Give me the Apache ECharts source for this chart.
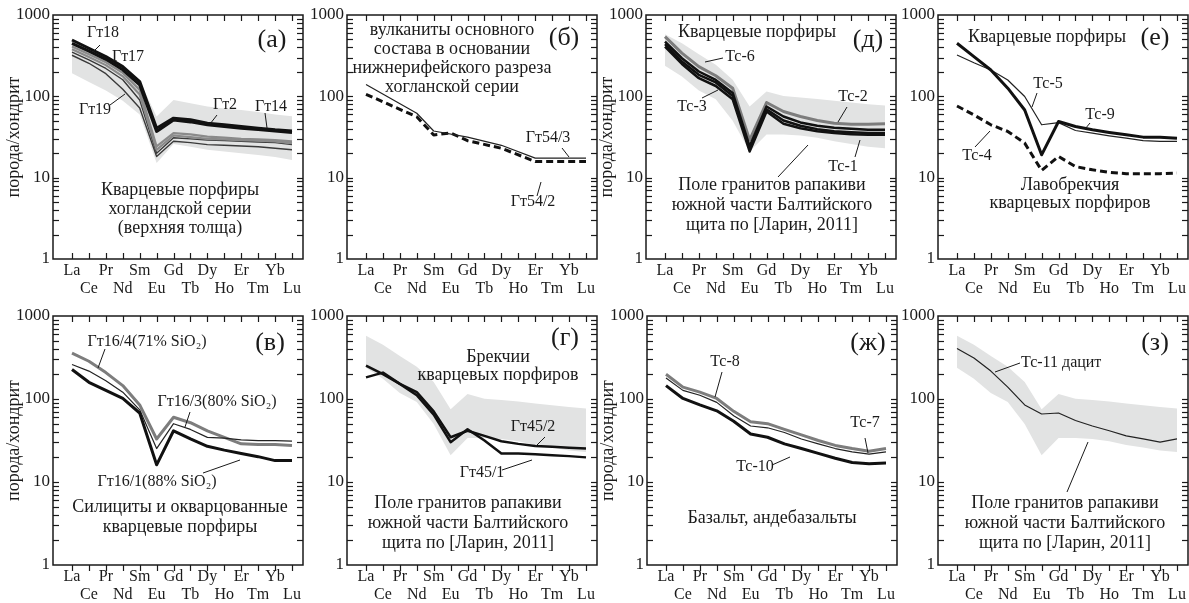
<!DOCTYPE html>
<html><head><meta charset="utf-8">
<script src="https://cdn.jsdelivr.net/npm/echarts@6/dist/echarts.min.js"></script>
<style>html,body{margin:0;padding:0;background:#fff}#c{width:1189px;height:603px}</style>
</head><body><div id="c"></div>
<script>
// ---------- categories & tick labels ----------
const elements = ['La','Ce','Pr','Nd','Sm','Eu','Gd','Tb','Dy','Ho','Er','Tm','Yb','Lu'];
const yTickLabels = [1, 10, 100, 1000];
const yMinorTicks = [2,3,4,5,6,7,8,9,10,20,30,40,50,60,70,80,90,100,200,300,400,500,600,700,800,900];

// ---------- panel (а) ----------
const a_black1 = [493, 390, 308, 232, 152, 40.6, 53.9, 51.4, 46.8, 44.7, 42.5, 40.6, 38.8, 37.5];
const a_black2 = [449, 360, 285, 212, 138, 37, 51, 48.5, 44.7, 42.5, 40.6, 39, 37.5, 36];
const a_grey1  = [409, 330, 262, 194, 120, 24.2, 35.3, 34, 32, 31, 30, 29.5, 29, 28];
const a_grey2  = [380, 305, 242, 176, 105, 22, 33, 31.5, 30, 29.5, 29, 28.5, 28, 26.6];
const a_dark1  = [350, 280, 220, 160, 90, 20, 31, 30, 29, 28.5, 28, 27.5, 27, 25.5];
const a_dark2  = [320, 255, 190, 122, 72, 18.2, 28, 27, 25.5, 25, 24.5, 24, 23, 22];
const fieldA_upper = [500, 400, 312, 238, 155, 56.5, 90, 82, 75, 71, 68, 64, 60, 57];
const fieldA_lower = [192, 150, 118, 88, 60, 15.1, 26, 24, 22, 21, 20, 19, 18, 16.5];

// ---------- panel (б) ----------
const b_gt54_3 = [140, null, null, 62, 37.5, null, 31.5, null, 25, null, 17.4, 17.4, 17.4, 17.4];
const b_gt54_2 = [106, null, null, 56, 33.5, 35.5, 28.5, null, 23, null, 15.8, 15.8, 15.8, 15.8];

// ---------- panel (д) ----------
const d_tc6 = [543, 340, 232, 179, 126, 29, 84, 65, 56.5, 50.5, 46.8, 45.5, 45.5, 46];
const d_tc2 = [471, 294, 202, 159, 110, 24.2, 75, 56.5, 47.8, 43.5, 41, 40, 38.8, 38.8];
const d_tc1 = [437, 268, 184, 148, 101, 22.4, 69.5, 50.5, 43.5, 39.5, 37.3, 36.3, 35.3, 35.3];
const d_tc3 = [409, 250, 167, 134, 92, 21, 65, 46, 40.6, 37.3, 35.3, 34.3, 33.6, 33.6];

// ---------- panel (е) ----------
const e_tc9 = [449, 308, 211, 126, 68, 19.1, 49, 42.5, 38.8, 36, 33.6, 31.5, 31.5, 30.6];
const e_tc5 = [322, 259, 211, 159, 99.5, 44.7, 47.5, 38, 35.3, 32.7, 30.6, 28.6, 27.9, 27.9];
const e_tc4 = [76, 59, 44.7, 37, 26.6, 12.3, 18.2, 13.7, 12.5, 11.6, 11.2, 11.2, 11.2, 11.4];

// ---------- panel (в) ----------
const v_gt16_4 = [356, 285, 208, 145, 84.8, 33, 60.3, 51.8, 41.4, 34.5, 28.8, 28.3, 28.3, 27.6];
const v_gt16_3 = [260, 217, 166, 121, 74, 25.3, 50.4, 43, 34.5, 33.8, 32.2, 31.6, 31.6, 31];
const v_gt16_1 = [227, 159, 127, 101.5, 67.8, 16.1, 41.4, 33, 26.9, 24.2, 22.1, 20.2, 18.1, 18.1];

// ---------- panel (г) ----------
const g_gt45_2 = [253, 199, 152, 121, 70.9, 34.6, 41.4, 36, 31, 28.8, 27.1, 26.5, 25.9, 25.3];
const g_gt45_1 = [182, 208, 152, 111, 64.8, 30.2, 43.3, 31.6, 22.1, 22.1, 21.6, 21, 20.5, 19.8];

// ---------- panel (ж) ----------
const zh_tc8  = [199, 139, 121, 101.5, 71, 53.2, 50.4, 43, 37, 31.6, 27.6, 25.3, 23.5, 25.3];
const zh_tc7  = [179, 127, 111, 91, 63, 47.3, 45, 39.5, 33, 28.8, 25.3, 23.1, 21.7, 23.1];
const zh_tc10 = [145, 101.5, 84.8, 72, 54, 37.8, 34.6, 28.8, 25.3, 22.1, 19.3, 17.2, 16.6, 16.9];

// ---------- panel (з) ----------
const z_tc11 = [407, 311, 217, 139, 84.8, 66, 67.8, 55, 47.3, 41.4, 36, 33, 30.2, 33];

// ---------- rapakivi granite field [Ларин, 2011] ----------
const rap_upper = [580, 450, 330, 245, 160, 75, 115, 101, 97, 93, 88, 84, 80, 77];
const rap_lower = [238, 175, 118, 92, 50, 21, 34, 34, 33, 31, 28, 26, 24, 23];

// ---------- styles ----------
const FONT = '"Liberation Serif","DejaVu Serif",serif';
const INK = '#1a1a1a';
const FIELD = '#e2e3e3';
const S = {
  black:  {color:'#111', width:3},
  blackM: {color:'#111', width:2.5},
  grey:   {color:'#7d7d7d', width:3},
  greyM:  {color:'#8a8a8a', width:2.2},
  dark:   {color:'#3a3a3a', width:1.4},
  thin:   {color:'#222', width:1.2},
  dash:   {color:'#111', width:3, type:[7,4]}
};

// ---------- layout ----------
const R1 = {top:15, height:244}, R2 = {top:316, height:255};
const panels = [
  {left:53,  row:R1, yName:true,  field:[fieldA_upper, fieldA_lower],
   lines:[[a_dark2,S.dark],[a_dark1,S.dark],[a_grey2,S.greyM],[a_grey1,S.greyM],[a_black2,S.black],[a_black1,S.black]]},
  {left:347, row:R1, yName:false, field:null,
   lines:[[b_gt54_2,S.dash],[b_gt54_3,S.thin]]},
  {left:646, row:R1, yName:true,  field:[rap_upper, rap_lower],
   lines:[[d_tc6,S.grey],[d_tc2,S.blackM],[d_tc1,S.blackM],[d_tc3,S.blackM]]},
  {left:938, row:R1, yName:false, field:null,
   lines:[[e_tc5,S.thin],[e_tc9,S.black],[e_tc4,S.dash]]},
  {left:53,  row:R2, yName:true,  field:null,
   lines:[[v_gt16_4,S.grey],[v_gt16_3,S.thin],[v_gt16_1,S.black]]},
  {left:347, row:R2, yName:false, field:[rap_upper, rap_lower],
   lines:[[g_gt45_2,S.blackM],[g_gt45_1,S.blackM]]},
  {left:647, row:R2, yName:true,  field:null,
   lines:[[zh_tc8,S.grey],[zh_tc7,S.thin],[zh_tc10,S.black]]},
  {left:938, row:R2, yName:false, field:[rap_upper, rap_lower],
   lines:[[z_tc11,S.thin]]}
];
const PW = 250;            // panel box width
const LA_OFF = 19, LU_OFF = 11;
const step = (PW - LA_OFF - LU_OFF) / 13;
const xMin = -LA_OFF / step, xMax = 13 + LU_OFF / step;
const xTicks = elements.map((e, i) => i);
const evenIdx = xTicks.filter(i => i % 2 === 0);
const oddIdx = xTicks.filter(i => i % 2 === 1);
const TICK = 6;

const grids = [], xAxes = [], yAxes = [], series = [];
panels.forEach((p, k) => {
  grids.push({left:p.left, top:p.row.top, width:PW, height:p.row.height,
    show:true, borderColor:INK, borderWidth:1.5, backgroundColor:'transparent'});
  const xLab = (idx, margin) => ({customValues:idx, margin, fontFamily:FONT, fontSize:16, color:INK,
      formatter: v => elements[Math.round(v)]});
  xAxes.push({gridIndex:k, type:'value', min:xMin, max:xMax, position:'bottom',
    axisLine:{show:false}, axisTick:{show:false}, splitLine:{show:false}, axisLabel:xLab(evenIdx, 4)});
  xAxes.push({gridIndex:k, type:'value', min:xMin, max:xMax, position:'bottom',
    axisLine:{show:false}, axisTick:{show:false}, splitLine:{show:false}, axisLabel:xLab(oddIdx, 22)});
  yAxes.push({gridIndex:k, type:'log', logBase:10, min:1, max:1000, position:'left',
    axisLine:{show:false}, axisTick:{show:false}, splitLine:{show:false},
    axisLabel:{customValues:yTickLabels, margin:3, fontFamily:FONT, fontSize:17, color:INK,
      formatter: v => String(Math.round(v))},
    name: p.yName ? 'порода/хондрит' : '', nameLocation:'middle', nameGap:30, nameMoveOverlap:false,
    nameTextStyle:{fontFamily:FONT, fontSize:18, color:INK}
  });
  const xi = 2*k, yi = k;
  if (p.field) {
    const up = p.field[0], lo = p.field[1];
    series.push({type:'custom', xAxisIndex:xi, yAxisIndex:yi, z:1, silent:true,
      data:[[0, up[0]]],
      renderItem: (params, api) => {
        const pts = [];
        for (let i = 0; i < up.length; i++) pts.push(api.coord([i, up[i]]));
        for (let i = lo.length - 1; i >= 0; i--) pts.push(api.coord([i, lo[i]]));
        return {type:'polygon', shape:{points:pts}, style:{fill:FIELD}};
      }
    });
  }
  p.lines.forEach(([vals, st]) => {
    series.push({type:'line', xAxisIndex:xi, yAxisIndex:yi, z:3, showSymbol:false, connectNulls:true,
      silent:true, data: vals.map((v, i) => [i, v]).filter(d => d[1] != null),
      lineStyle:{color:st.color, width:st.width, type:st.type || 'solid', join:'round'}
    });
  });
});

// ---------- annotations ----------
function T(x, y, text, size, align) {
  return {type:'text', z:50, style:{x, y, text, fill:INK, font:(size||16)+'px '+FONT,
    align:align||'center', verticalAlign:'middle'}};
}
function D(x, y, text) { return T(x, y, text, 18); }
function P(x, y, text) { return T(x, y, text, 26); }
function L(x1, y1, x2, y2, w) {
  return {type:'line', z:50, silent:true, shape:{x1, y1, x2, y2}, style:{stroke:INK, lineWidth:w||1}};
}
const graphic = [
  // (а)
  T(103,33,'Гт18'), L(100,45,93,52),
  T(128,57,'Гт17'),
  T(95,110,'Гт19'), L(110,105,125,94),
  T(225,105,'Гт2'), L(217,115,210,124),
  T(271,107,'Гт14'), L(265,113,267,128),
  P(272,40,'(а)'),
  D(180,190,'Кварцевые порфиры'), D(180,209,'хогландской серии'), D(180,228,'(верхняя толща)'),
  // (б)
  D(452,30,'вулканиты основного'), D(452,49,'состава в основании'),
  D(452,68,'нижнерифейского разреза'), D(452,87,'хогланской серии'),
  P(564,38,'(б)'),
  T(548,138,'Гт54/3'), L(562,148,569,157),
  T(533,202,'Гт54/2'), L(541,182,537,196),
  // (д)
  D(757,32,'Кварцевые порфиры'), P(868,40,'(д)'),
  T(740,57,'Тс-6'), L(723,58,705,62),
  T(692,107,'Тс-3'), L(702,98,718,90),
  T(853,97,'Тс-2'), L(847,107,838,122),
  T(843,167,'Тс-1'), L(855,157,860,140),
  L(778,177,808,145),
  D(772,185,'Поле гранитов рапакиви'), D(772,205,'южной части Балтийского'), D(772,225,'щита по [Ларин, 2011]'),
  // (е)
  D(1047,37,'Кварцевые порфиры'), P(1155,38,'(е)'),
  T(1048,84,'Тс-5'), L(1037,93,1032,107),
  T(1100,115,'Тс-9'), L(1090,123,1085,129),
  T(977,156,'Тс-4'), L(975,147,990,131),
  D(1070,185,'Лавобрекчия'), D(1070,203,'кварцевых порфиров'),
  // (в)
  T(147,342,'Гт16/4(71% SiO₂)'), L(105,349,98,368),
  T(217,402,'Гт16/3(80% SiO₂)'), L(190,412,185,427),
  T(157,482,'Гт16/1(88% SiO₂)'), L(203,473,240,460),
  D(180,507,'Силициты и окварцованные'), D(180,527,'кварцевые порфиры'),
  P(270,343,'(в)'),
  // (г)
  P(565,338,'(г)'),
  D(498,357,'Брекчии'), D(498,375,'кварцевых порфиров'),
  T(533,427,'Гт45/2'), L(545,437,535,447),
  T(482,473,'Гт45/1'), L(502,470,532,460),
  D(468,503,'Поле гранитов рапакиви'), D(468,523,'южной части Балтийского'), D(468,543,'щита по [Ларин, 2011]'),
  // (ж)
  P(868,343,'(ж)'),
  T(725,362,'Тс-8'), L(722,372,715,397),
  T(865,423,'Тс-7'), L(865,438,868,453),
  T(755,467,'Тс-10'), L(772,465,790,457),
  D(772,518,'Базальт, андебазальты'),
  // (з)
  P(1155,343,'(з)'),
  T(1021,363,'Тс-11 дацит',16,'left'), L(1020,363,995,372),
  L(1067,492,1088,442),
  D(1065,503,'Поле гранитов рапакиви'), D(1065,523,'южной части Балтийского'), D(1065,543,'щита по [Ларин, 2011]')
];

const chart = echarts.init(document.getElementById('c'), null, {renderer:'canvas'});
chart.setOption({
  animation:false, backgroundColor:'#fff',
  grid:grids, xAxis:xAxes, yAxis:yAxes, series
});

// ---------- inward tick marks on all four sides, positioned through the axes' scales ----------
const tickEls = [];
let dbg = '';
panels.forEach((p, k) => {
  const xl = p.left, xr = p.left + PW, yt = p.row.top, yb = p.row.top + p.row.height;
  const xAx = {xAxisIndex: 2*k}, yAx = {yAxisIndex: k};
  const both = {xAxisIndex: 2*k, yAxisIndex: k};
  xTicks.forEach(i => {
    let px = chart.convertToPixel(both, [i, 10]);
    px = px && isFinite(px[0]) ? px[0] : chart.convertToPixel(xAx, i);
    if (!isFinite(px)) { dbg = 'x NaN ' + JSON.stringify(chart.convertToPixel(both, [i, 10])); return; }
    px = Math.round(px) + 0.5;
    tickEls.push(L(px, yb, px, yb - TICK, 1.2));
    tickEls.push(L(px, yt, px, yt + TICK, 1.2));
  });
  yMinorTicks.forEach(v => {
    let py = chart.convertToPixel(both, [0, v]);
    py = py && isFinite(py[1]) ? py[1] : chart.convertToPixel(yAx, v);
    if (!isFinite(py)) { dbg = 'y NaN ' + JSON.stringify(chart.convertToPixel(both, [0, v])); return; }
    py = Math.round(py) + 0.5;
    tickEls.push(L(xl, py, xl + TICK, py, 1.2));
    tickEls.push(L(xr, py, xr - TICK, py, 1.2));
  });
});
if (dbg) tickEls.push(T(600, 300, dbg, 14));
chart.setOption({graphic: graphic.concat(tickEls)});
</script></body></html>
